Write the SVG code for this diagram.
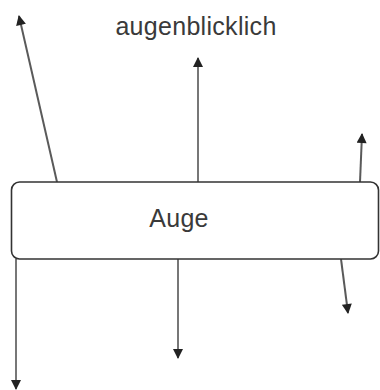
<svg xmlns="http://www.w3.org/2000/svg" width="380" height="390" viewBox="0 0 380 390">
<style>
.lbl{font-family:"Liberation Sans",Arial,sans-serif;font-size:25px;fill:#3a3a3a;text-anchor:middle;letter-spacing:0.3px}
.box{fill:#fff;stroke:#333;stroke-width:1.6}
.con{stroke:#5a5a5a;stroke-width:2;fill:none;marker-end:url(#ah)}
.lt{stroke:#777}
</style>
<defs>
<marker id="ah" viewBox="0 0 10 10" refX="9" refY="5" markerWidth="5.5" markerHeight="5" orient="auto" markerUnits="strokeWidth">
<path d="M0,0 L10,5 L0,10 z" fill="#222"/>
</marker>
</defs>
<rect width="380" height="390" fill="#fff"/>
<g id="label-augenblicklich">
<text class="lbl" x="196" y="35">augenblicklich</text>
</g>
<g id="connectors">
<line class="con" x1="57" y1="182" x2="19" y2="16"/>
<line class="con lt" x1="198" y1="182" x2="198" y2="58"/>
<line class="con" x1="360" y1="182" x2="362" y2="134"/>
<line class="con lt" x1="16" y1="259" x2="16" y2="389"/>
<line class="con lt" x1="178" y1="259" x2="178" y2="358"/>
<line class="con" x1="341" y1="259" x2="348" y2="313"/>
</g>
<g id="node-auge">
<rect class="box" x="11.5" y="182" width="367" height="77" rx="8" ry="8"/>
<text class="lbl" x="179" y="227">Auge</text>
</g>
</svg>
